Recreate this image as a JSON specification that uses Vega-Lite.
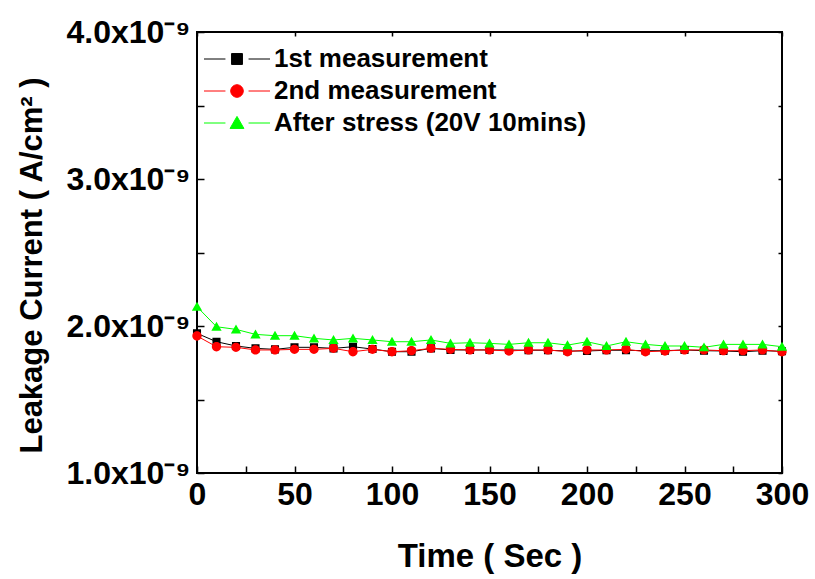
{
  "$schema": "https://vega.github.io/schema/vega-lite/v6.json",
  "width": 585,
  "height": 441,
  "autosize": {"type": "none"},
  "padding": {"left": 197, "top": 32, "right": 33, "bottom": 106},
  "background": "white",
  "config": {
    "view": {"stroke": "black", "strokeWidth": 2},
    "font": "Liberation Sans",
    "axis": {
      "grid": false,
      "domain": false,
      "tickColor": "black",
      "tickWidth": 1.5,
      "labelFont": "Liberation Sans",
      "labelFontWeight": "bold",
      "labelFontSize": 32,
      "labelColor": "black",
      "titleFont": "Liberation Sans",
      "titleFontWeight": "bold",
      "titleColor": "black"
    },
    "legend": {
      "orient": "none",
      "legendX": 23,
      "legendY": 10,
      "padding": 0,
      "title": null,
      "labelFont": "Liberation Sans",
      "labelFontWeight": "bold",
      "labelFontSize": 26,
      "labelColor": "black",
      "labelLimit": 600,
      "labelOffset": 20,
      "symbolSize": 1089,
      "symbolStrokeWidth": 1,
      "symbolOpacity": 1,
      "rowPadding": 2
    }
  },
  "data": {
    "values": [
      {"t": 0, "series": "1st measurement", "value": 1.950e-9},
      {"t": 10, "series": "1st measurement", "value": 1.893e-9},
      {"t": 20, "series": "1st measurement", "value": 1.864e-9},
      {"t": 30, "series": "1st measurement", "value": 1.848e-9},
      {"t": 40, "series": "1st measurement", "value": 1.841e-9},
      {"t": 50, "series": "1st measurement", "value": 1.855e-9},
      {"t": 60, "series": "1st measurement", "value": 1.855e-9},
      {"t": 70, "series": "1st measurement", "value": 1.848e-9},
      {"t": 80, "series": "1st measurement", "value": 1.859e-9},
      {"t": 90, "series": "1st measurement", "value": 1.843e-9},
      {"t": 100, "series": "1st measurement", "value": 1.825e-9},
      {"t": 110, "series": "1st measurement", "value": 1.825e-9},
      {"t": 120, "series": "1st measurement", "value": 1.848e-9},
      {"t": 130, "series": "1st measurement", "value": 1.837e-9},
      {"t": 140, "series": "1st measurement", "value": 1.837e-9},
      {"t": 150, "series": "1st measurement", "value": 1.837e-9},
      {"t": 160, "series": "1st measurement", "value": 1.837e-9},
      {"t": 170, "series": "1st measurement", "value": 1.835e-9},
      {"t": 180, "series": "1st measurement", "value": 1.835e-9},
      {"t": 190, "series": "1st measurement", "value": 1.830e-9},
      {"t": 200, "series": "1st measurement", "value": 1.830e-9},
      {"t": 210, "series": "1st measurement", "value": 1.835e-9},
      {"t": 220, "series": "1st measurement", "value": 1.835e-9},
      {"t": 230, "series": "1st measurement", "value": 1.832e-9},
      {"t": 240, "series": "1st measurement", "value": 1.832e-9},
      {"t": 250, "series": "1st measurement", "value": 1.837e-9},
      {"t": 260, "series": "1st measurement", "value": 1.832e-9},
      {"t": 270, "series": "1st measurement", "value": 1.830e-9},
      {"t": 280, "series": "1st measurement", "value": 1.825e-9},
      {"t": 290, "series": "1st measurement", "value": 1.832e-9},
      {"t": 300, "series": "1st measurement", "value": 1.828e-9},
      {"t": 0, "series": "2nd measurement", "value": 1.932e-9},
      {"t": 10, "series": "2nd measurement", "value": 1.859e-9},
      {"t": 20, "series": "2nd measurement", "value": 1.855e-9},
      {"t": 30, "series": "2nd measurement", "value": 1.837e-9},
      {"t": 40, "series": "2nd measurement", "value": 1.837e-9},
      {"t": 50, "series": "2nd measurement", "value": 1.841e-9},
      {"t": 60, "series": "2nd measurement", "value": 1.841e-9},
      {"t": 70, "series": "2nd measurement", "value": 1.848e-9},
      {"t": 80, "series": "2nd measurement", "value": 1.825e-9},
      {"t": 90, "series": "2nd measurement", "value": 1.841e-9},
      {"t": 100, "series": "2nd measurement", "value": 1.825e-9},
      {"t": 110, "series": "2nd measurement", "value": 1.832e-9},
      {"t": 120, "series": "2nd measurement", "value": 1.848e-9},
      {"t": 130, "series": "2nd measurement", "value": 1.841e-9},
      {"t": 140, "series": "2nd measurement", "value": 1.837e-9},
      {"t": 150, "series": "2nd measurement", "value": 1.837e-9},
      {"t": 160, "series": "2nd measurement", "value": 1.830e-9},
      {"t": 170, "series": "2nd measurement", "value": 1.837e-9},
      {"t": 180, "series": "2nd measurement", "value": 1.837e-9},
      {"t": 190, "series": "2nd measurement", "value": 1.825e-9},
      {"t": 200, "series": "2nd measurement", "value": 1.837e-9},
      {"t": 210, "series": "2nd measurement", "value": 1.837e-9},
      {"t": 220, "series": "2nd measurement", "value": 1.841e-9},
      {"t": 230, "series": "2nd measurement", "value": 1.825e-9},
      {"t": 240, "series": "2nd measurement", "value": 1.830e-9},
      {"t": 250, "series": "2nd measurement", "value": 1.837e-9},
      {"t": 260, "series": "2nd measurement", "value": 1.837e-9},
      {"t": 270, "series": "2nd measurement", "value": 1.832e-9},
      {"t": 280, "series": "2nd measurement", "value": 1.832e-9},
      {"t": 290, "series": "2nd measurement", "value": 1.837e-9},
      {"t": 300, "series": "2nd measurement", "value": 1.825e-9},
      {"t": 0, "series": "After stress (20V 10mins)", "value": 2.131e-9},
      {"t": 10, "series": "After stress (20V 10mins)", "value": 1.995e-9},
      {"t": 20, "series": "After stress (20V 10mins)", "value": 1.977e-9},
      {"t": 30, "series": "After stress (20V 10mins)", "value": 1.943e-9},
      {"t": 40, "series": "After stress (20V 10mins)", "value": 1.934e-9},
      {"t": 50, "series": "After stress (20V 10mins)", "value": 1.934e-9},
      {"t": 60, "series": "After stress (20V 10mins)", "value": 1.916e-9},
      {"t": 70, "series": "After stress (20V 10mins)", "value": 1.905e-9},
      {"t": 80, "series": "After stress (20V 10mins)", "value": 1.916e-9},
      {"t": 90, "series": "After stress (20V 10mins)", "value": 1.905e-9},
      {"t": 100, "series": "After stress (20V 10mins)", "value": 1.893e-9},
      {"t": 110, "series": "After stress (20V 10mins)", "value": 1.893e-9},
      {"t": 120, "series": "After stress (20V 10mins)", "value": 1.905e-9},
      {"t": 130, "series": "After stress (20V 10mins)", "value": 1.882e-9},
      {"t": 140, "series": "After stress (20V 10mins)", "value": 1.886e-9},
      {"t": 150, "series": "After stress (20V 10mins)", "value": 1.882e-9},
      {"t": 160, "series": "After stress (20V 10mins)", "value": 1.875e-9},
      {"t": 170, "series": "After stress (20V 10mins)", "value": 1.886e-9},
      {"t": 180, "series": "After stress (20V 10mins)", "value": 1.886e-9},
      {"t": 190, "series": "After stress (20V 10mins)", "value": 1.870e-9},
      {"t": 200, "series": "After stress (20V 10mins)", "value": 1.893e-9},
      {"t": 210, "series": "After stress (20V 10mins)", "value": 1.864e-9},
      {"t": 220, "series": "After stress (20V 10mins)", "value": 1.893e-9},
      {"t": 230, "series": "After stress (20V 10mins)", "value": 1.875e-9},
      {"t": 240, "series": "After stress (20V 10mins)", "value": 1.864e-9},
      {"t": 250, "series": "After stress (20V 10mins)", "value": 1.864e-9},
      {"t": 260, "series": "After stress (20V 10mins)", "value": 1.855e-9},
      {"t": 270, "series": "After stress (20V 10mins)", "value": 1.875e-9},
      {"t": 280, "series": "After stress (20V 10mins)", "value": 1.875e-9},
      {"t": 290, "series": "After stress (20V 10mins)", "value": 1.875e-9},
      {"t": 300, "series": "After stress (20V 10mins)", "value": 1.859e-9}
    ]
  },
  "layer": [
    {
      "mark": {"type": "line", "strokeWidth": 1, "clip": true},
      "encoding": {
        "x": {
          "field": "t", "type": "quantitative",
          "scale": {"domain": [0, 300], "nice": false, "zero": false},
          "axis": {
            "orient": "bottom",
            "title": "Time ( Sec )",
            "titleFontSize": 33,
            "titlePadding": 30,
            "values": [0, 25, 50, 75, 100, 125, 150, 175, 200, 225, 250, 275, 300],
            "labelExpr": "datum.value % 50 === 0 ? datum.label : ''",
            "tickSize": -7,
            "labelPadding": 13,
            "labelFlush": false
          }
        },
        "y": {
          "field": "value", "type": "quantitative",
          "scale": {"domain": [1e-9, 4e-9], "nice": false, "zero": false},
          "axis": {
            "orient": "left",
            "title": "Leakage Current ( A/cm² )",
            "titleFontSize": 31,
            "titleX": -165,
            "titleY": 233,
            "titleAngle": -90,
            "titleAlign": "center",
            "titleBaseline": "middle",
            "values": [1e-9, 1.5e-9, 2e-9, 2.5e-9, 3e-9, 3.5e-9, 4e-9],
            "labelExpr": "(datum.value * 1e9) % 1 < 0.01 || (datum.value * 1e9) % 1 > 0.99 ? format(datum.value * 1e9, '.1f') + 'x10⁻⁹' : ''",
            "tickSize": -7,
            "labelPadding": 14
          }
        },
        "stroke": {
          "field": "series", "type": "nominal",
          "scale": {"domain": ["1st measurement", "2nd measurement", "After stress (20V 10mins)"], "range": ["#000000", "#ff0000", "#00ff00"]}
        }
      }
    },
    {
      "mark": {"type": "point", "filled": true, "size": 600, "opacity": 1},
      "encoding": {
        "x": {
          "field": "t", "type": "quantitative",
          "axis": {"orient": "top", "title": null, "labels": false, "values": [0, 50, 100, 150, 200, 250, 300], "tickSize": -4}
        },
        "y": {
          "field": "value", "type": "quantitative",
          "axis": {"orient": "right", "title": null, "labels": false, "values": [1e-9, 1.5e-9, 2e-9, 2.5e-9, 3e-9, 3.5e-9, 4e-9], "tickSize": -4}
        },
        "fill": {
          "field": "series", "type": "nominal",
          "scale": {"domain": ["1st measurement", "2nd measurement", "After stress (20V 10mins)"], "range": ["#000000", "#ff0000", "#00ff00"]}
        },
        "stroke": {"field": "series", "type": "nominal"},
        "strokeWidth": {"value": 0},
        "shape": {
          "field": "series", "type": "nominal",
          "scale": {
            "domain": ["1st measurement", "2nd measurement", "After stress (20V 10mins)"],
            "range": [
              "M-2,0H-0.7M0.7,0H2M-0.33,-0.33H0.33V0.33H-0.33Z",
              "M-2,0H-0.7M0.7,0H2M-0.38,0A0.38,0.38,0,1,1,0.38,0A0.38,0.38,0,1,1,-0.38,0Z",
              "M-2,0H-0.7M0.7,0H2M0,-0.4L0.42,0.33H-0.42Z"
            ]
          }
        }
      }
    }
  ]
}
